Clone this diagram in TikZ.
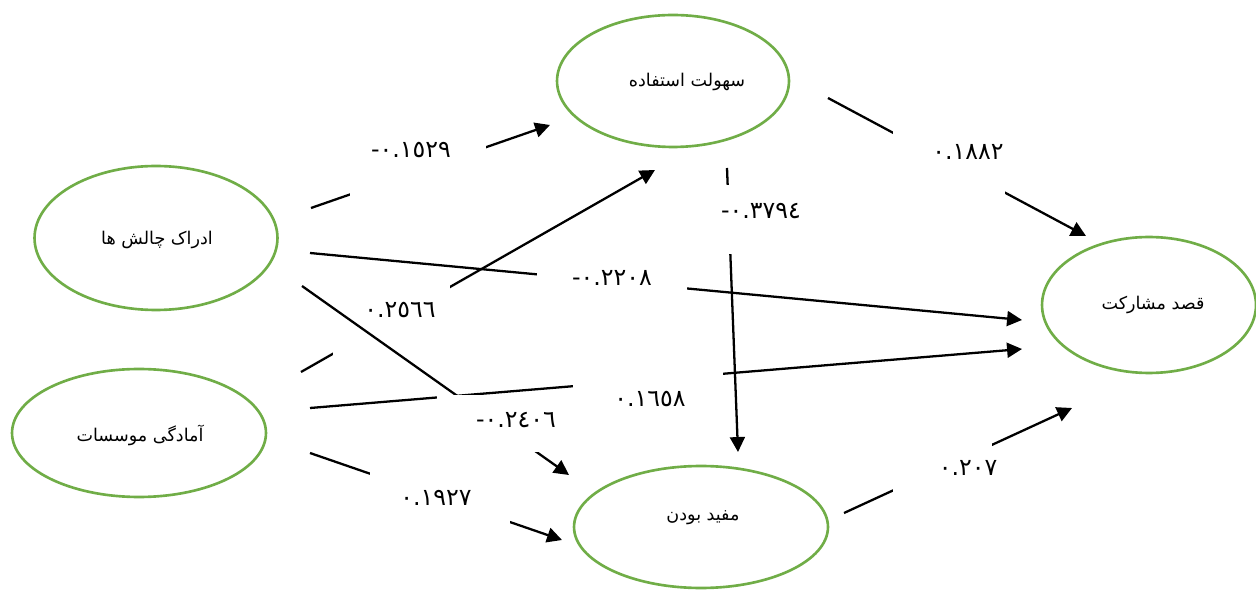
\documentclass[tikz,border=0pt]{standalone}
\usepackage{fontspec}
\usetikzlibrary{shapes.geometric,arrows.meta}
\TeXXeTstate=1
\newfontfamily\arabicfont[Script=Arabic]{DejaVu Sans}
\definecolor{egreen}{RGB}{112,173,71}
\newcommand{\minussgn}{\hbox{-}}
\begin{document}
\begin{tikzpicture}[x=0.02cm,y=-0.02cm,
  ell/.style={draw=egreen, line width=1.5pt, ellipse, inner sep=0pt},
  conn/.style={line width=1.3pt, -{Triangle[length=8.5pt,width=8.5pt]}},
  mask/.style={fill=white},
  coef/.style={font=\arabicfont\fontsize{13.5}{15}\selectfont, inner sep=0pt},
  lbl/.style={font=\arabicfont\fontsize{10}{12}\selectfont, inner sep=0pt}]
\useasboundingbox (0,0) rectangle (1256,590);
% ellipses
\node[ell, minimum width=4.64cm, minimum height=2.64cm] (S) at (673,81) {};
\node[ell, minimum width=4.86cm, minimum height=2.88cm] (A) at (156,238) {};
\node[ell, minimum width=5.08cm, minimum height=2.56cm] (M) at (139,433) {};
\node[ell, minimum width=5.08cm, minimum height=2.44cm] (U) at (701,527) {};
\node[ell, minimum width=4.28cm, minimum height=2.72cm] (Q) at (1149,305) {};
\node[lbl] (St) at (687,82) {\beginR سهولت استفاده\endR};
\node[lbl] (At) at (157,240) {\beginR ادراک چالش ها\endR};
\node[lbl] (Mt) at (140,435) {\beginR آمادگی موسسات\endR};
\node[lbl] (Ut) at (703,518) {\beginR مفید بودن\endR};
\node[lbl] (Qt) at (1153,305) {\beginR قصد مشارکت\endR};
% connector end points
\coordinate (p1s) at (311,208); \coordinate (p1e) at (550,125);
\coordinate (p2s) at (828,98);  \coordinate (p2e) at (1086,236);
\coordinate (p3s) at (727,168); \coordinate (p3e) at (738,452);
\coordinate (p4s) at (310,253); \coordinate (p4e) at (1022,320);
\coordinate (p5s) at (301,372); \coordinate (p5e) at (655,170);
\coordinate (p6s) at (302,286); \coordinate (p6e) at (569,475);
\coordinate (p7s) at (310,408); \coordinate (p7e) at (1022,349);
\coordinate (p8s) at (310,453); \coordinate (p8e) at (562,540);
\coordinate (p9s) at (844,513); \coordinate (p9e) at (1072,408);
% connectors
\draw[conn] (p1s) -- (p1e);
\draw[conn] (p2s) -- (p2e);
\draw[conn] (p3s) -- (p3e);
\draw[conn] (p4s) -- (p4e);
\draw[conn] (p5s) -- (p5e);
\draw[conn] (p7s) -- (p7e);
\draw[conn] (p8s) -- (p8e);
\draw[conn] (p9s) -- (p9e);
\fill[mask] (333,283) rectangle (450,357);
\draw[conn] (p6s) -- (p6e);
% label masks
\fill[mask] (350,120) rectangle (486,196);
\fill[mask] (893,128) rectangle (1005,196);
\fill[mask] (712,185) rectangle (835,254);
\fill[mask] (537,250) rectangle (687,300);
\fill[mask] (437,395.5) rectangle (600,452);
\fill[mask] (573,370) rectangle (723,420);
\fill[mask] (370,471) rectangle (510,525);
\fill[mask] (893,440) rectangle (992,492);
% coefficients
\node[coef] (c1) at (411,150) {\minussgn٠.١٥٢٩};
\node[coef] (c2) at (968,152) {٠.١٨٨٢};
\node[coef] (c3) at (761,211) {\minussgn٠.٣٧٩٤};
\node[coef] (c4) at (612,278) {\minussgn٠.٢٢٠٨};
\node[coef] (c5) at (400,310) {٠.٢٥٦٦};
\node[coef] (c6) at (516,420) {\minussgn٠.٢٤٠٦};
\node[coef] (c7) at (650,399) {٠.١٦٥٨};
\node[coef] (c8) at (436,498) {٠.١٩٢٧};
\node[coef] (c9) at (968,468) {٠.٢٠٧};
\end{tikzpicture}
\end{document}
